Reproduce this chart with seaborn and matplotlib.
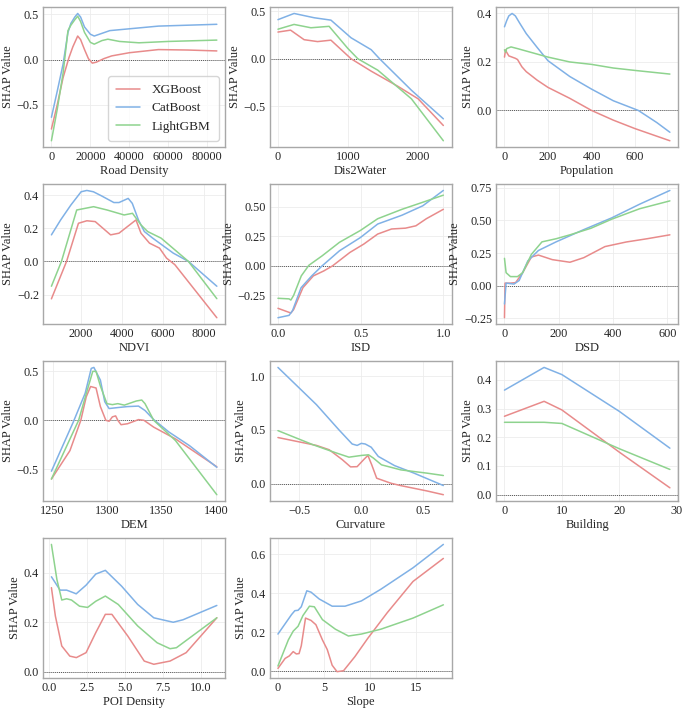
import pandas as pd
import matplotlib
matplotlib.use("Agg")
import matplotlib.pyplot as plt
from matplotlib.ticker import MultipleLocator
import seaborn as sns

MODELS = ["XGBoost", "CatBoost", "LightGBM"]
COLORS = {"XGBoost": "#e88b8b", "CatBoost": "#80b1e6", "LightGBM": "#8ed38e"}

# Road Density
road_x_xgb = [0, 3000, 6000, 9000, 11000, 13500, 15000, 17000, 19000, 21000, 23000, 27000, 31000, 40000, 55000, 70000, 85000]
road_y_xgb = [-0.77, -0.5, -0.2, 0.02, 0.14, 0.26, 0.22, 0.11, 0.01, -0.04, -0.03, 0.01, 0.04, 0.075, 0.11, 0.105, 0.095]
road_x_cat = [0, 3000, 6000, 8500, 10000, 12000, 13500, 15000, 17000, 20000, 22000, 26000, 30000, 40000, 55000, 70000, 85000]
road_y_cat = [-0.64, -0.35, -0.05, 0.3, 0.4, 0.47, 0.51, 0.47, 0.36, 0.28, 0.26, 0.29, 0.32, 0.34, 0.37, 0.38, 0.39]
road_x_lgb = [0, 3000, 6000, 8500, 10000, 12000, 13500, 15000, 17000, 20000, 22000, 26000, 29000, 35000, 45000, 60000, 85000]
road_y_lgb = [-0.9, -0.55, -0.15, 0.32, 0.38, 0.44, 0.48, 0.42, 0.3, 0.19, 0.17, 0.21, 0.225, 0.2, 0.185, 0.2, 0.215]

# Dis2Water
water_x_xgb = [0, 180, 373, 565, 756, 1043, 1330, 1713, 2000, 2360]
water_y_xgb = [0.28, 0.3, 0.2, 0.18, 0.195, 0.0, -0.13, -0.29, -0.42, -0.7]
water_x_cat = [0, 230, 517, 756, 1043, 1330, 1450, 1904, 2360]
water_y_cat = [0.41, 0.475, 0.43, 0.405, 0.22, 0.095, 0.0, -0.33, -0.63]
water_x_lgb = [0, 230, 470, 730, 995, 1140, 1425, 1904, 2360]
water_y_lgb = [0.31, 0.36, 0.325, 0.34, 0.11, 0.0, -0.12, -0.42, -0.86]

# Population
pop_x_xgb = [0, 5, 10, 20, 50, 60, 80, 100, 150, 200, 300, 400, 500, 600, 760]
pop_y_xgb = [0.22, 0.25, 0.24, 0.225, 0.215, 0.21, 0.18, 0.16, 0.125, 0.095, 0.05, 0.0, -0.04, -0.075, -0.125]
pop_x_cat = [0, 10, 20, 35, 50, 70, 100, 150, 200, 300, 400, 500, 615, 700, 760]
pop_y_cat = [0.345, 0.37, 0.39, 0.4, 0.39, 0.36, 0.317, 0.26, 0.205, 0.14, 0.088, 0.04, 0.0, -0.05, -0.09]
pop_x_lgb = [0, 5, 10, 30, 60, 100, 200, 300, 400, 500, 600, 760]
pop_y_lgb = [0.25, 0.24, 0.255, 0.262, 0.255, 0.245, 0.22, 0.2, 0.19, 0.175, 0.165, 0.15]

# NDVI
ndvi_x_xgb = [550, 1290, 1870, 2280, 2690, 3440, 3850, 4680, 4925, 5340, 5830, 6170, 6580, 8630]
ndvi_y_xgb = [-0.226, 0.0, 0.23, 0.245, 0.24, 0.16, 0.17, 0.25, 0.17, 0.11, 0.08, 0.02, -0.02, -0.34]
ndvi_x_cat = [550, 1000, 1500, 2000, 2280, 2600, 3000, 3600, 3850, 4300, 4500, 4800, 5090, 5500, 6000, 6500, 7240, 8630]
ndvi_y_cat = [0.16, 0.25, 0.34, 0.42, 0.428, 0.42, 0.395, 0.355, 0.355, 0.38, 0.35, 0.25, 0.18, 0.14, 0.095, 0.05, 0.0, -0.15]
ndvi_x_lgb = [550, 1040, 1785, 2610, 3270, 4100, 4510, 4925, 5250, 5910, 7240, 8630]
ndvi_y_lgb = [-0.15, 0.0, 0.31, 0.33, 0.31, 0.28, 0.29, 0.22, 0.18, 0.14, 0.0, -0.225]

# ISD
isd_x_xgb = [0.0, 0.078, 0.095, 0.151, 0.214, 0.277, 0.33, 0.435, 0.519, 0.603, 0.687, 0.771, 0.834, 0.897, 1.0]
isd_y_xgb = [-0.36, -0.4, -0.37, -0.185, -0.085, -0.043, 0.0, 0.114, 0.185, 0.27, 0.313, 0.32, 0.34, 0.4, 0.48]
isd_x_cat = [0.0, 0.067, 0.088, 0.14, 0.204, 0.267, 0.372, 0.498, 0.603, 0.75, 0.876, 1.0]
isd_y_cat = [-0.44, -0.42, -0.38, -0.185, -0.085, 0.0, 0.128, 0.24, 0.355, 0.43, 0.51, 0.64]
isd_x_lgb = [0.0, 0.067, 0.078, 0.095, 0.141, 0.187, 0.267, 0.372, 0.498, 0.603, 0.75, 0.876, 1.0]
isd_y_lgb = [-0.275, -0.28, -0.29, -0.25, -0.085, 0.005, 0.085, 0.2, 0.3, 0.4, 0.48, 0.54, 0.6]

# DSD
dsd_x_xgb = [0, 2, 22, 41, 67, 99, 125, 176, 241, 292, 370, 448, 525, 609]
dsd_y_xgb = [-0.245, 0.02, 0.02, 0.024, 0.1, 0.22, 0.235, 0.2, 0.18, 0.215, 0.3, 0.335, 0.36, 0.39]
dsd_x_cat = [0, 6, 35, 54, 86, 125, 190, 292, 395, 498, 609]
dsd_y_cat = [-0.14, 0.02, 0.013, 0.04, 0.19, 0.27, 0.336, 0.43, 0.52, 0.625, 0.73]
dsd_x_lgb = [0, 6, 22, 48, 67, 99, 138, 190, 241, 318, 395, 498, 609]
dsd_y_lgb = [0.21, 0.1, 0.07, 0.07, 0.1, 0.24, 0.336, 0.36, 0.39, 0.44, 0.51, 0.59, 0.65]

# DEM
dem_x_xgb = [1249, 1266, 1276, 1281, 1285, 1290, 1294, 1299, 1302, 1305, 1308, 1310, 1313, 1319, 1329, 1334, 1343, 1363, 1401]
dem_y_xgb = [-0.6, -0.31, 0.0, 0.24, 0.345, 0.33, 0.14, 0.0, -0.01, 0.035, 0.045, 0.0, -0.045, -0.035, 0.007, 0.0, -0.07, -0.19, -0.475]
dem_x_cat = [1249, 1269, 1280, 1285.6, 1288, 1294, 1298, 1302, 1310, 1319, 1329, 1335, 1343, 1357, 1376, 1401]
dem_y_cat = [-0.52, -0.02, 0.276, 0.53, 0.54, 0.41, 0.19, 0.12, 0.13, 0.14, 0.145, 0.1, 0.007, -0.12, -0.26, -0.48]
dem_x_lgb = [1249, 1274, 1282, 1287, 1290, 1294, 1300, 1305, 1310, 1316, 1327, 1332, 1335, 1343, 1363, 1401]
dem_y_lgb = [-0.6, 0.0, 0.31, 0.5, 0.5, 0.35, 0.17, 0.16, 0.17, 0.155, 0.197, 0.207, 0.17, 0.0, -0.207, -0.76]

# Curvature
curv_x_xgb = [-0.674, -0.363, -0.26, -0.153, -0.087, -0.034, 0.018, 0.053, 0.084, 0.124, 0.24, 0.32, 0.53, 0.663]
curv_y_xgb = [0.43, 0.357, 0.317, 0.224, 0.158, 0.16, 0.224, 0.264, 0.177, 0.053, 0.006, -0.016, -0.065, -0.1]
curv_x_cat = [-0.674, -0.363, -0.18, -0.074, -0.034, 0.0, 0.032, 0.08, 0.137, 0.268, 0.426, 0.663]
curv_y_cat = [1.08, 0.735, 0.5, 0.37, 0.357, 0.376, 0.37, 0.34, 0.255, 0.17, 0.1, -0.015]
curv_x_lgb = [-0.674, -0.39, -0.21, -0.1, 0.0, 0.058, 0.097, 0.163, 0.32, 0.53, 0.663]
curv_y_lgb = [0.494, 0.363, 0.29, 0.248, 0.264, 0.27, 0.24, 0.177, 0.13, 0.1, 0.078]

# Building
bld_x = [0, 6.9, 10, 20, 28.8]
bld_y_xgb = [0.273, 0.325, 0.295, 0.148, 0.024]
bld_y_cat = [0.364, 0.443, 0.418, 0.29, 0.162]
bld_y_lgb = [0.252, 0.252, 0.248, 0.16, 0.088]

# POI Density
poi_x_xgb = [0.17, 0.43, 0.85, 1.38, 1.81, 2.45, 3.09, 3.72, 4.15, 5.2, 6.28, 6.91, 7.98, 9.04, 11.06]
poi_y_xgb = [0.34, 0.225, 0.104, 0.063, 0.057, 0.077, 0.158, 0.232, 0.232, 0.144, 0.043, 0.03, 0.043, 0.077, 0.218]
poi_x_cat = [0.17, 0.74, 1.17, 1.6, 1.8, 2.45, 3.09, 3.72, 4.79, 5.85, 6.91, 8.19, 8.83, 11.06]
poi_y_cat = [0.384, 0.33, 0.33, 0.32, 0.315, 0.35, 0.395, 0.41, 0.346, 0.272, 0.218, 0.2, 0.21, 0.268]
poi_x_lgb = [0.17, 0.53, 0.85, 1.17, 1.49, 2.02, 2.55, 3.09, 3.72, 4.57, 5.85, 7.13, 7.98, 8.4, 11.06]
poi_y_lgb = [0.515, 0.373, 0.29, 0.295, 0.29, 0.265, 0.26, 0.285, 0.306, 0.272, 0.185, 0.117, 0.093, 0.097, 0.218]

# Slope
slope_x_xgb = [0, 0.78, 1.24, 1.66, 2.0, 2.3, 2.54, 3.0, 3.6, 4.13, 4.84, 5.37, 5.9, 6.43, 7.14, 8.37, 9.79, 11.9, 14.7, 18]
slope_y_xgb = [0.014, 0.065, 0.078, 0.1, 0.088, 0.09, 0.13, 0.272, 0.26, 0.238, 0.16, 0.11, 0.03, -0.003, 0.002, 0.074, 0.169, 0.3, 0.46, 0.578]
slope_x_cat = [0, 1.48, 1.84, 2.19, 2.54, 3.14, 3.6, 4.49, 5.9, 7.3, 9.08, 11.2, 14.7, 18]
slope_y_cat = [0.19, 0.29, 0.31, 0.312, 0.33, 0.412, 0.405, 0.37, 0.333, 0.333, 0.36, 0.42, 0.53, 0.65]
slope_x_lgb = [0, 1.13, 1.66, 2.19, 2.72, 3.43, 3.96, 4.84, 6.25, 7.67, 9.08, 11.2, 14.7, 18]
slope_y_lgb = [0.026, 0.16, 0.205, 0.23, 0.285, 0.333, 0.33, 0.264, 0.215, 0.18, 0.19, 0.215, 0.272, 0.34]

# name, xgb, cat, lgb, x tick step, y tick step
panels = [
    ("Road Density", (road_x_xgb, road_y_xgb), (road_x_cat, road_y_cat), (road_x_lgb, road_y_lgb), 20000, 0.5),
    ("Dis2Water", (water_x_xgb, water_y_xgb), (water_x_cat, water_y_cat), (water_x_lgb, water_y_lgb), 1000, 0.5),
    ("Population", (pop_x_xgb, pop_y_xgb), (pop_x_cat, pop_y_cat), (pop_x_lgb, pop_y_lgb), 200, 0.2),
    ("NDVI", (ndvi_x_xgb, ndvi_y_xgb), (ndvi_x_cat, ndvi_y_cat), (ndvi_x_lgb, ndvi_y_lgb), 2000, 0.2),
    ("ISD", (isd_x_xgb, isd_y_xgb), (isd_x_cat, isd_y_cat), (isd_x_lgb, isd_y_lgb), 0.5, 0.25),
    ("DSD", (dsd_x_xgb, dsd_y_xgb), (dsd_x_cat, dsd_y_cat), (dsd_x_lgb, dsd_y_lgb), 200, 0.25),
    ("DEM", (dem_x_xgb, dem_y_xgb), (dem_x_cat, dem_y_cat), (dem_x_lgb, dem_y_lgb), 50, 0.5),
    ("Curvature", (curv_x_xgb, curv_y_xgb), (curv_x_cat, curv_y_cat), (curv_x_lgb, curv_y_lgb), 0.5, 0.5),
    ("Building", (bld_x, bld_y_xgb), (bld_x, bld_y_cat), (bld_x, bld_y_lgb), 10, 0.1),
    ("POI Density", (poi_x_xgb, poi_y_xgb), (poi_x_cat, poi_y_cat), (poi_x_lgb, poi_y_lgb), 2.5, 0.2),
    ("Slope", (slope_x_xgb, slope_y_xgb), (slope_x_cat, slope_y_cat), (slope_x_lgb, slope_y_lgb), 5, 0.2),
]

sns.set_theme(style="whitegrid")
plt.rcParams["font.family"] = ["Liberation Serif", "DejaVu Serif"]
plt.rcParams["axes.edgecolor"] = "#a8a8a8"
plt.rcParams["grid.color"] = "#ececec"
plt.rcParams["grid.linewidth"] = 0.6

FS = 8.8

fig, axes = plt.subplots(4, 3, figsize=(6.85, 7.1), dpi=100,
                         gridspec_kw=dict(left=0.063, right=0.99, top=0.99, bottom=0.045,
                                          wspace=0.245, hspace=0.264))
axes = axes.ravel()

for i, (name, s_xgb, s_cat, s_lgb, xstep, ystep) in enumerate(panels):
    ax = axes[i]
    rows = []
    for model, (xs, ys) in zip(MODELS, [s_xgb, s_cat, s_lgb]):
        for x, y in zip(xs, ys):
            rows.append({"x": x, "y": y, "model": model})
    df = pd.DataFrame(rows)
    sns.lineplot(data=df, x="x", y="y", hue="model", hue_order=MODELS, palette=COLORS,
                 estimator=None, lw=1.1, ax=ax, legend=(i == 0))
    ax.axhline(0, color="#555555", ls=(0, (1, 1)), lw=0.7, zorder=1)
    ax.xaxis.set_major_locator(MultipleLocator(xstep))
    ax.yaxis.set_major_locator(MultipleLocator(ystep))
    ax.set_xlabel(name, fontsize=9, labelpad=1)
    ax.set_ylabel("SHAP Value", fontsize=9, labelpad=2)
    ax.tick_params(labelsize=FS, length=0, pad=3)
    for s in ax.spines.values():
        s.set_linewidth(1.0)
    if i == 0:
        leg = ax.legend(loc="lower right", fontsize=9.5, handlelength=1.8, frameon=True,
                        borderpad=0.6, labelspacing=0.45, handletextpad=0.9)
        leg.get_frame().set_edgecolor("#cccccc")

axes[-1].axis("off")

fig.savefig("out.png", dpi=100)
